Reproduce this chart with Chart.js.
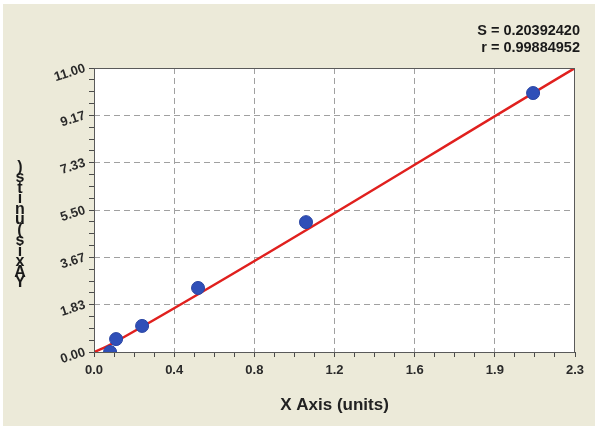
<!DOCTYPE html>
<html>
<head>
<meta charset="utf-8">
<script src="https://cdn.jsdelivr.net/npm/chart.js@4.4.1/dist/chart.umd.min.js"></script>
<style>
  html, body { margin: 0; padding: 0; background: #ffffff; }
  #wrap { width: 600px; height: 435px; }
</style>
</head>
<body>
<div id="wrap"><canvas id="chart" width="600" height="435"></canvas></div>
<script>
// standard points
const xValues = [0.078, 0.107, 0.233, 0.504, 1.027, 2.127];
const yValues = [0.00, 0.50, 1.01, 2.48, 5.03, 10.03];

// fitted curve
const fitX = [0.0, 0.05, 0.15, 2.33];
const fitY = [0.0, 0.17, 0.60, 11.0];

// axes
const xMax = 2.33;
const yMax = 11.0;
const xTickLabels = ['0.0', '0.4', '0.8', '1.2', '1.6', '1.9', '2.3'];
const yTickLabels = ['0.00', '1.83', '3.67', '5.50', '7.33', '9.17', '11.00'];
const minorPerMajor = 4;

const statLines = ['S = 0.20392420', 'r = 0.99884952'];
const xTitle = 'X Axis (units)';
const yTitle = 'Y Axis (units)';

const FONT = "'Liberation Sans', Arial, sans-serif";

function tickList(max, majors) {
    const n = (majors.length - 1) * minorPerMajor;
    const out = [];
    for (let i = 0; i <= n; i++) out.push({ value: max * i / n });
    return out;
}

function gridColor(ctx) {
    const n = ctx.scale.ticks.length - 1;
    if (ctx.index % minorPerMajor === 0 && ctx.index !== 0 && ctx.index !== n) return '#a0a0a0';
    return 'rgba(0,0,0,0)';
}

// beige panel, white plot area, border, stats and y title
const decor = {
    id: 'decor',
    beforeDraw(chart) {
        const c = chart.ctx, a = chart.chartArea;
        c.save();
        c.fillStyle = '#ecead9';
        c.fillRect(3, 4, 592, 422);
        c.fillStyle = '#ffffff';
        c.fillRect(a.left, a.top, a.right - a.left, a.bottom - a.top);
        c.restore();
    },
    afterDraw(chart) {
        const c = chart.ctx, a = chart.chartArea;
        c.save();
        c.strokeStyle = '#5a5a5a';
        c.lineWidth = 1;
        c.strokeRect(a.left + 0.5, a.top + 0.5, a.right - a.left - 1, a.bottom - a.top);

        c.fillStyle = '#1a1a1a';
        c.font = 'bold 14.5px ' + FONT;
        c.textAlign = 'right';
        c.textBaseline = 'middle';
        c.fillText(statLines[0], 580, 31);
        c.fillText(statLines[1], 580, 48);

        // y title as a column of glyphs, bottom up
        const chars = yTitle.replace(/ /g, '').split('');
        c.font = 'bold 16px ' + FONT;
        c.textAlign = 'center';
        let y = 283;
        chars.forEach(ch => {
            c.fillText(ch, 20, y);
            y -= 10.5;
        });
        c.restore();
    }
};

new Chart(document.getElementById('chart'), {
    type: 'scatter',
    data: {
        datasets: [
            {
                type: 'line',
                data: fitX.map((x, i) => ({ x: x, y: fitY[i] })),
                borderColor: '#e0201e',
                borderWidth: 2.5,
                pointRadius: 0,
                fill: false,
                cubicInterpolationMode: 'monotone',
                order: 2
            },
            {
                data: xValues.map((x, i) => ({ x: x, y: yValues[i] })),
                backgroundColor: '#2f4fb8',
                borderColor: '#2a45a3',
                borderWidth: 1,
                pointRadius: 6.5,
                pointHoverRadius: 6.5,
                order: 1
            }
        ]
    },
    options: {
        responsive: false,
        animation: false,
        events: [],
        layout: { padding: { top: 68, right: 25, left: 0, bottom: 0 } },
        plugins: {
            legend: { display: false },
            tooltip: { enabled: false }
        },
        scales: {
            x: {
                type: 'linear',
                min: 0,
                max: xMax,
                afterBuildTicks: s => { s.ticks = tickList(xMax, xTickLabels); },
                afterFit: s => { s.height = 83; },
                ticks: {
                    autoSkip: false,
                    maxRotation: 0,
                    padding: 6,
                    color: '#2a2a2a',
                    font: { family: FONT, size: 13, weight: 'bold' },
                    callback: (v, i) => i % minorPerMajor === 0 ? xTickLabels[i / minorPerMajor] : ''
                },
                grid: {
                    color: gridColor,
                    tickColor: '#4a4a4a',
                    tickLength: 5,
                    drawOnChartArea: true
                },
                border: { display: false, dash: [6, 4] },
                title: {
                    display: true,
                    text: xTitle,
                    color: '#222222',
                    font: { family: FONT, size: 17, weight: 'bold' },
                    padding: { top: 0, bottom: 19 }
                }
            },
            y: {
                type: 'linear',
                min: 0,
                max: yMax,
                afterBuildTicks: s => { s.ticks = tickList(yMax, yTickLabels); },
                afterFit: s => { s.width = 94; },
                ticks: {
                    autoSkip: false,
                    minRotation: 18,
                    maxRotation: 18,
                    padding: 4,
                    color: '#2a2a2a',
                    font: { family: FONT, size: 13, weight: 'bold' },
                    callback: (v, i) => i % minorPerMajor === 0 ? yTickLabels[i / minorPerMajor] : ''
                },
                grid: {
                    color: gridColor,
                    tickColor: '#4a4a4a',
                    tickLength: 5,
                    drawOnChartArea: true
                },
                border: { display: false, dash: [6, 4] }
            }
        }
    },
    plugins: [decor]
});
</script>
</body>
</html>
